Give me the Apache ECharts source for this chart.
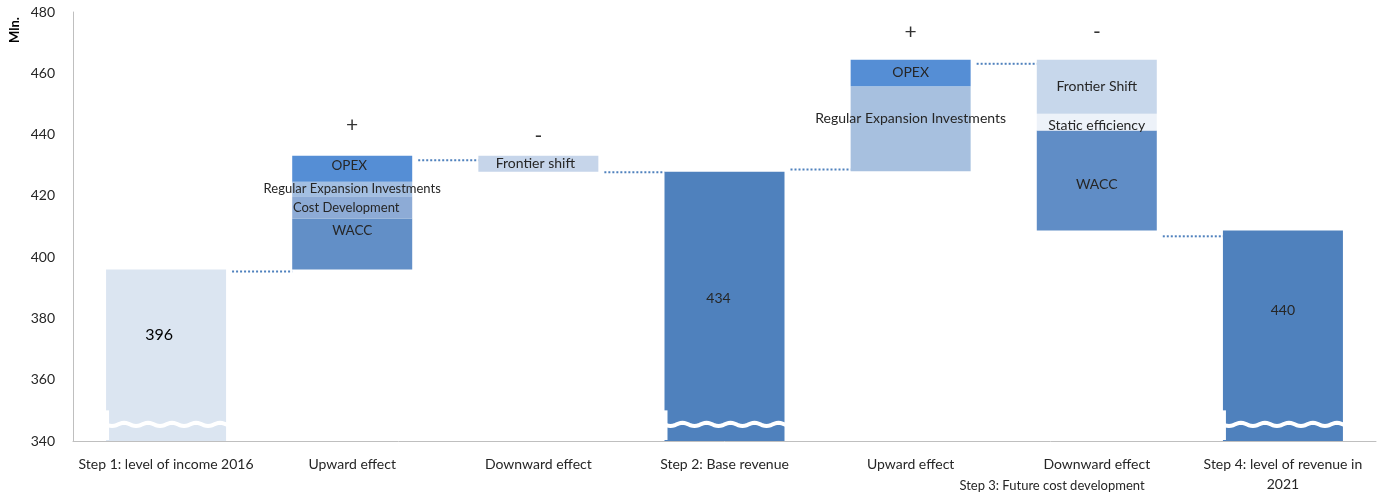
<!DOCTYPE html>
<html><head><meta charset="utf-8">
<script src="https://cdn.jsdelivr.net/npm/echarts@6/dist/echarts.min.js"></script>
<style>html,body{margin:0;padding:0;background:#fff}#c{width:1383px;height:494px}</style>
</head><body><div id="c"></div>
<script>
// ---- data ----
const categories = ['Step 1: level of income 2016', 'Upward effect', 'Downward effect', 'Step 2: Base revenue', 'Upward effect', 'Downward effect', 'Step 4: level of revenue in\n2021'];
const yMin = 340, yMax = 480, yStep = 20;
const totals = [396, null, null, 427.9, null, null, 408.7];
const totalLabels = ['396', '', '', '434', '', '', '440'];
const bases = [null, 396, 427.9, null, 428, 408.7, null];
const seg1 = [null, 16.6, 5.15, null, 27.8, 32.6, null];
const seg1Names = ['', 'WACC', 'Frontier shift', '', 'Regular Expansion Investments', 'WACC', ''];
const seg2 = [null, 7.3, null, null, 8.6, 5.5, null];
const seg2Names = ['', 'Cost Development', '', '', 'OPEX', 'Static efficiency', ''];
const seg3 = [null, 4.7, null, null, null, 17.6, null];
const seg3Names = ['', 'Regular Expansion Investments', '', '', '', 'Frontier Shift', ''];
const seg4 = [null, 8.45, null, null, null, null, null];
const seg4Names = ['', 'OPEX', '', '', '', '', ''];
const signs = ['', '+', '-', '', '+', '-', ''];
const signLevels = [null, 443, 439.5, null, 473.5, 473.5, null];
const connectorLevels = [395.3, 431.6, 427.7, 428.6, 463.1, 406.8];
const breakIndices = [0, 3, 6];
const breakLevel = 345.4;
const breakTop = 350;
const subTitle = 'Step 3: Future cost development';
const axisTitle = 'Mln.';

// ---- styles ----
const FONT = 'Lato';
const TXT = '#262626';
const BAR_W = 120;
const totalColors = ['#dbe5f1', null, null, '#4f81bd', null, null, '#4f81bd'];
const totalLabelStyle = [
  {fontSize: 16, offset: [-7, -20], color: '#000'}, null, null,
  {fontSize: 14, offset: [-6, -8]}, null, null,
  {fontSize: 14, offset: [0, -25]}
];
const seg1Colors = [null, '#628fc7', '#c6d5ea', null, '#a7c0df', '#608dc6', null];
const seg1Lab = [null, {position: 'insideTop', distance: 5, fontSize: 13.5}, {fontSize: 14, offset: [-3, 0]}, null, {fontSize: 14, offset: [0, -10]}, {fontSize: 14, offset: [0, 4]}, null];
const seg2Colors = [null, '#8dabd6', null, null, '#558ed5', '#edf2f9', null];
const seg2Lab = [null, {fontSize: 13, offset: [-6, 0]}, null, null, {fontSize: 14}, {fontSize: 14, offset: [0, 3]}, null];
const seg3Colors = [null, '#a3bfe2', null, null, null, '#c7d7eb', null];
const seg3Lab = [null, {fontSize: 13}, null, null, null, {fontSize: 14}, null];
const seg4Colors = [null, '#558ed5', null, null, null, null, null];
const seg4Lab = [null, {fontSize: 13.5, offset: [-3, -3]}, null, null, null, null, null];

function buildSeg(vals, names, colors, labs) {
  return vals.map((v, i) => {
    if (v == null) return '-';
    const l = labs[i] || {};
    return {
      value: v,
      itemStyle: {color: colors[i]},
      label: Object.assign({show: true, position: 'inside', formatter: names[i], color: TXT, fontFamily: FONT}, l)
    };
  });
}

const totalData = totals.map((v, i) => {
  if (v == null) return '-';
  const l = totalLabelStyle[i] || {};
  return {
    value: v,
    itemStyle: {color: totalColors[i]},
    label: Object.assign({show: true, position: 'inside', formatter: totalLabels[i], color: TXT, fontFamily: FONT}, l)
  };
});

const chart = echarts.init(document.getElementById('c'), null, {renderer: 'canvas'});
chart.setOption({
  animation: false,
  grid: {left: 73, right: 7, top: 12, bottom: 52, containLabel: false},
  xAxis: {
    type: 'category',
    data: categories,
    axisLine: {lineStyle: {color: '#bfbfbf', width: 1}},
    axisTick: {show: false},
    axisLabel: {interval: 0, fontSize: 14, color: TXT, fontFamily: FONT, margin: 13, lineHeight: 20}
  },
  yAxis: {
    type: 'value', min: yMin, max: yMax, interval: yStep,
    axisLine: {show: true, lineStyle: {color: '#bfbfbf', width: 1}},
    axisTick: {show: false},
    splitLine: {show: false},
    axisLabel: {fontSize: 14, color: TXT, fontFamily: FONT, margin: 18}
  },
  graphic: [
    {type: 'text', x: 15, y: 30, rotation: Math.PI / 2,
     style: {text: axisTitle, font: 'bold 13px ' + FONT, fill: '#000', textAlign: 'center', textVerticalAlign: 'middle'}},
    {type: 'text', x: 1052, y: 486,
     style: {text: subTitle, font: '13px ' + FONT, fill: TXT, textAlign: 'center', textVerticalAlign: 'middle'}}
  ],
  series: [
    {type: 'bar', stack: 'w', barWidth: BAR_W, data: bases.map(v => v == null ? '-' : v),
     itemStyle: {color: 'transparent'}, silent: true},
    {type: 'bar', stack: 'w', barWidth: BAR_W, data: totalData},
    {type: 'bar', stack: 'w', barWidth: BAR_W, data: buildSeg(seg1, seg1Names, seg1Colors, seg1Lab)},
    {type: 'bar', stack: 'w', barWidth: BAR_W, data: buildSeg(seg2, seg2Names, seg2Colors, seg2Lab)},
    {type: 'bar', stack: 'w', barWidth: BAR_W, data: buildSeg(seg3, seg3Names, seg3Colors, seg3Lab)},
    {type: 'bar', stack: 'w', barWidth: BAR_W, data: buildSeg(seg4, seg4Names, seg4Colors, seg4Lab)},
    {type: 'scatter', symbolSize: 0, z: 5,
     data: signLevels.map((v, i) => v == null ? null : [i, v]).filter(d => d),
     label: {show: true, position: 'inside', fontSize: 21, color: '#000', fontFamily: FONT,
             formatter: p => signs[p.data[0]]}},
    {type: 'custom', z: 6, silent: true,
     data: connectorLevels.map((v, i) => [i, v]),
     renderItem: (params, api) => {
       const p = api.coord([api.value(0), api.value(1)]);
       const band = api.size([1, 0])[0];
       const half = BAR_W / 2;
       return {type: 'line',
         shape: {x1: p[0] + half + 6, y1: p[1], x2: p[0] + band - half, y2: p[1]},
         style: {stroke: '#4f81bd', lineWidth: 2, lineDash: [2, 2]}};
     }},
    {type: 'custom', z: 7, silent: true,
     data: breakIndices.map(i => [i, breakLevel]),
     renderItem: (params, api) => {
       const i = api.value(0);
       const p = api.coord([i, api.value(1)]);
       const pt = api.coord([i, breakTop]);
       const pb = api.coord([i, yMin]);
       const x0 = p[0] - BAR_W / 2, x1 = p[0] + BAR_W / 2;
       const pts = [];
       for (let x = x0 - 2; x <= x1 + 2; x += 2) {
         pts.push([x, p[1] + 1.6 * Math.sin((x - x0) / 24 * 2 * Math.PI)]);
       }
       return {type: 'group', children: [
         {type: 'rect', shape: {x: x0 - 1, y: pt[1], width: 4, height: pb[1] - pt[1] - 1}, style: {fill: '#fff'}},
         {type: 'polyline', shape: {points: pts}, style: {stroke: '#fff', lineWidth: 4, fill: null}}
       ]};
     }}
  ]
});
</script>
</body></html>
